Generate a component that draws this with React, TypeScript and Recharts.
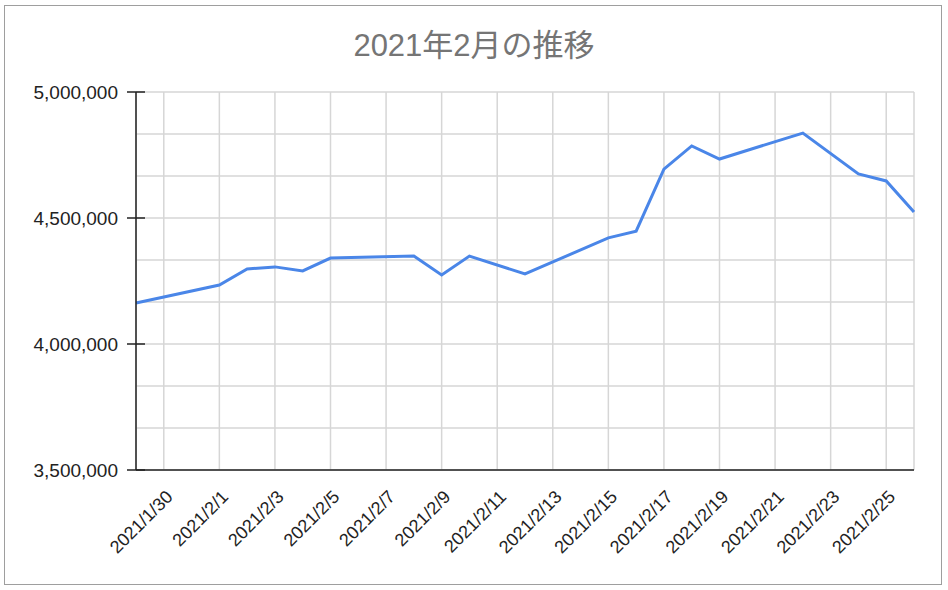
import React from 'react';
import { LineChart, Line, XAxis, YAxis, CartesianGrid } from 'recharts';

const dates = [
  '2021/1/29', '2021/2/1', '2021/2/2', '2021/2/3', '2021/2/4', '2021/2/5',
  '2021/2/8', '2021/2/9', '2021/2/10', '2021/2/12', '2021/2/15', '2021/2/16',
  '2021/2/17', '2021/2/18', '2021/2/19', '2021/2/22', '2021/2/24', '2021/2/25',
  '2021/2/26',
];

const values = [
  4163000, 4234000, 4298000, 4306000, 4290000, 4341000,
  4349000, 4274000, 4349000, 4278000, 4421000, 4448000,
  4694000, 4786000, 4734000, 4837000, 4675000, 4647000,
  4524000,
];

const xTickLabels = [
  '2021/1/30', '2021/2/1', '2021/2/3', '2021/2/5', '2021/2/7', '2021/2/9',
  '2021/2/11', '2021/2/13', '2021/2/15', '2021/2/17', '2021/2/19', '2021/2/21',
  '2021/2/23', '2021/2/25',
];

const yTicks = [
  3500000, 3666667, 3833333, 4000000, 4166667, 4333333,
  4500000, 4666667, 4833333, 5000000,
];
const yLabelled = [3500000, 4000000, 4500000, 5000000];

const domainDates = ['2021/1/29', '2021/2/26'];

// days since epoch
const toDay = (s: string) => {
  const [y, m, d] = s.split('/').map(Number);
  return Date.UTC(y, m - 1, d) / 86400000;
};
const fromDay = (n: number) => {
  const dt = new Date(n * 86400000);
  return `${dt.getUTCFullYear()}/${dt.getUTCMonth() + 1}/${dt.getUTCDate()}`;
};

const data = dates.map((d, i) => ({ t: toDay(d), value: values[i] }));
const xTicks = xTickLabels.map(toDay);

const FONT = '"Liberation Sans", Arial, "Noto Sans CJK JP", sans-serif';

const YTick = (props: any) => {
  const { x, y, payload } = props;
  if (!yLabelled.includes(payload.value)) return null;
  return (
    <g>
      <line x1={x - 9} x2={x + 9} y1={y} y2={y} stroke="#222" strokeWidth={1.5} />
      <text
        x={x - 18}
        y={y}
        textAnchor="end"
        dominantBaseline="central"
        fontSize={19}
        fill="#222"
        fontFamily={FONT}
      >
        {payload.value.toLocaleString('en-US')}
      </text>
    </g>
  );
};

const XTick = (props: any) => {
  const { x, y, payload } = props;
  return (
    <text
      transform={`translate(${x + 10},${y + 28}) rotate(-45)`}
      textAnchor="end"
      fontSize={18}
      fill="#222"
      fontFamily={FONT}
    >
      {fromDay(payload.value)}
    </text>
  );
};

export default function App() {
  return (
    <div style={{ position: 'absolute', left: 0, top: 0, width: 948, height: 590, background: '#fff' }}>
      <div
        style={{
          position: 'absolute',
          left: 4,
          top: 5,
          width: 938,
          height: 580,
          border: '1px solid #9e9e9e',
          boxSizing: 'border-box',
        }}
      />
      <div
        style={{
          position: 'absolute',
          left: 0,
          top: 27,
          width: 948,
          textAlign: 'center',
          fontSize: 31,
          color: '#757575',
          fontFamily: FONT,
          lineHeight: '38px',
        }}
      >
        2021年2月の推移
      </div>
      <LineChart
        width={948}
        height={590}
        data={data}
        margin={{ top: 92, right: 34, bottom: 0, left: 0 }}
        style={{ position: 'absolute', left: 0, top: 0 }}
      >
        <CartesianGrid stroke="#d6d6d6" strokeWidth={1.5} />
        <XAxis
          dataKey="t"
          type="number"
          domain={[toDay(domainDates[0]), toDay(domainDates[1])]}
          ticks={xTicks}
          height={120}
          tickLine={false}
          tickSize={0}
          tickMargin={0}
          tick={<XTick />}
          axisLine={{ stroke: '#222', strokeWidth: 1.5 }}
          interval={0}
        />
        <YAxis
          type="number"
          domain={[3500000, 5000000]}
          ticks={yTicks}
          width={136}
          tickLine={false}
          tickSize={0}
          tickMargin={0}
          tick={<YTick />}
          axisLine={{ stroke: '#222', strokeWidth: 1.5 }}
          interval={0}
        />
        <Line
          type="linear"
          dataKey="value"
          stroke="#4a86e8"
          strokeWidth={3}
          dot={false}
          isAnimationActive={false}
        />
      </LineChart>
    </div>
  );
}
